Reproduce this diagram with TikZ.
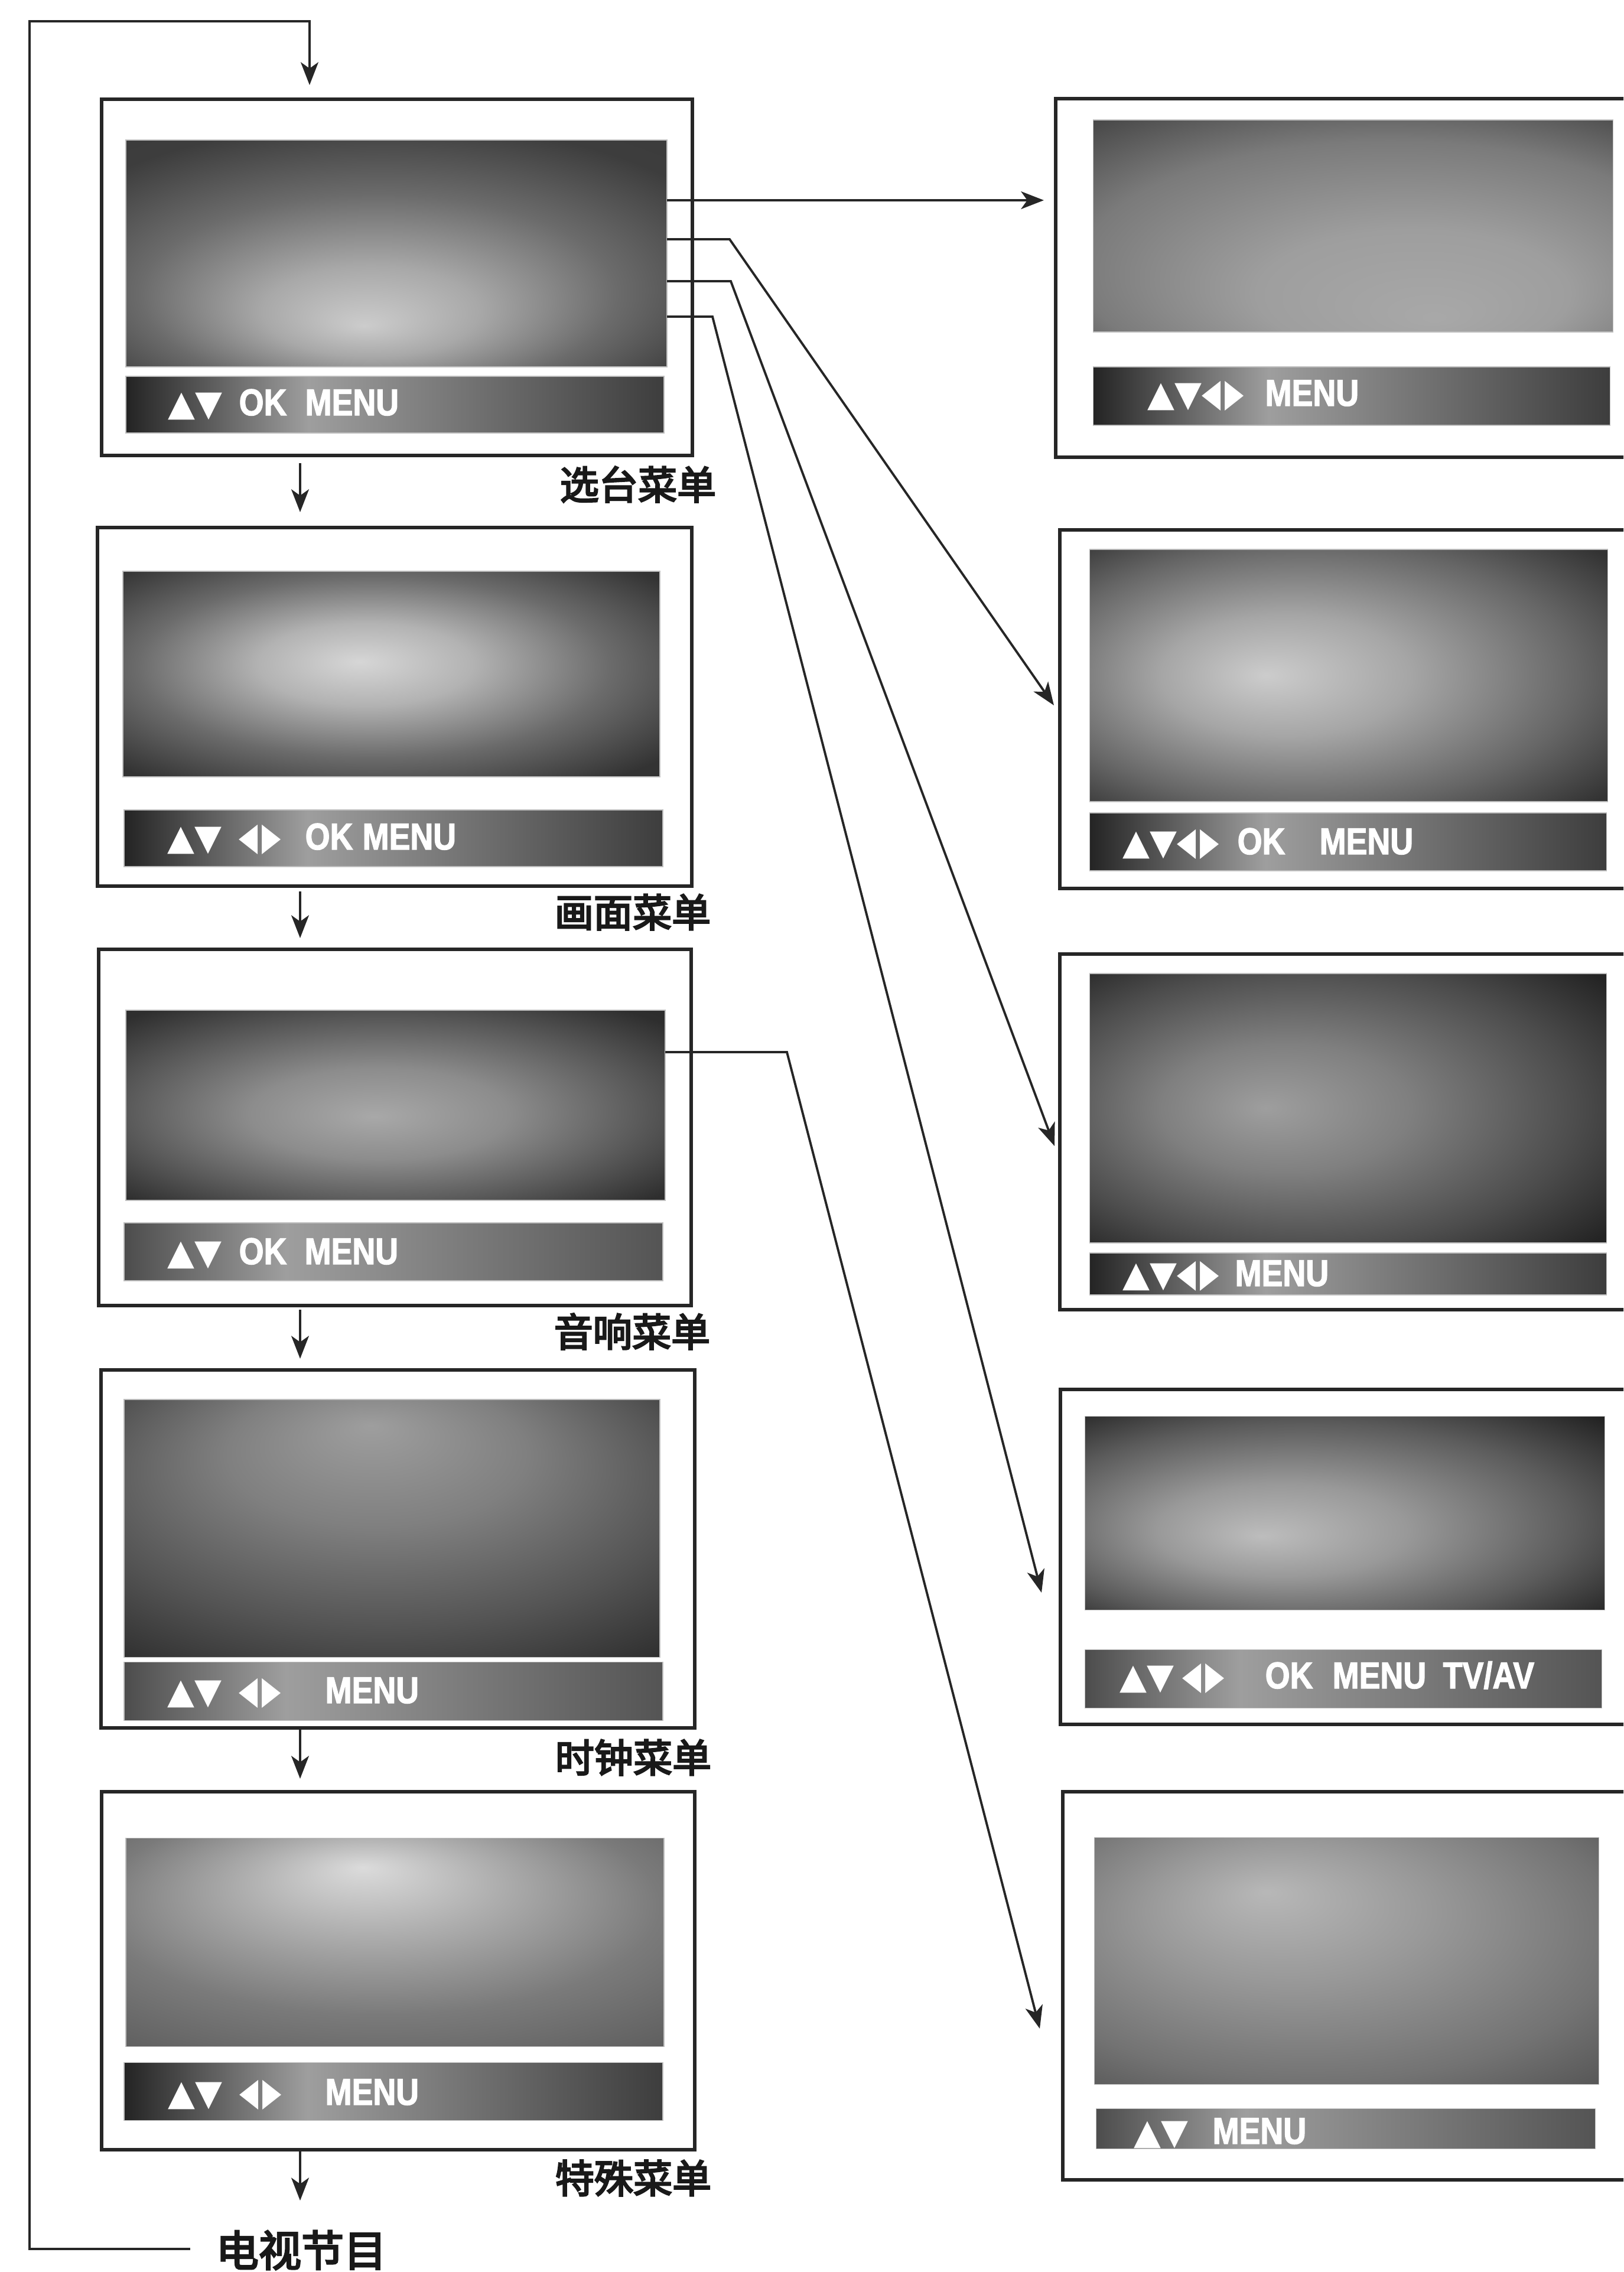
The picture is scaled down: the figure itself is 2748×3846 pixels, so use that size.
\documentclass[tikz,border=0pt]{standalone}
\usepackage{fontspec}
\usepackage{graphicx}
\usetikzlibrary{arrows.meta,calc}
\newfontfamily\cjk[FakeBold=4]{Noto Sans CJK SC}
\newfontfamily\barfont[FakeStretch=0.85,FakeBold=2]{Liberation Sans}
\newfontfamily\symfont{DejaVu Sans}
\newcommand\lr{\scalebox{0.7}[1.1]{◀}\kern2pt\scalebox{0.7}[1.1]{▶}}

% screen shadings (path box = central 50bp square)
\pgfdeclareradialshading{sA}{\pgfpoint{-3bp}{-16bp}}{rgb(0bp)=(0.80,0.80,0.80); rgb(10bp)=(0.66,0.66,0.66); rgb(22bp)=(0.42,0.42,0.42); rgb(34bp)=(0.24,0.24,0.24); rgb(50bp)=(0.22,0.22,0.22)}
\pgfdeclareradialshading{sB}{\pgfpoint{-3bp}{3bp}}{rgb(0bp)=(0.84,0.84,0.84); rgb(10bp)=(0.70,0.70,0.70); rgb(22bp)=(0.42,0.42,0.42); rgb(34bp)=(0.20,0.20,0.20); rgb(50bp)=(0.18,0.18,0.18)}
\pgfdeclareradialshading{sC}{\pgfpoint{-2bp}{-3bp}}{rgb(0bp)=(0.66,0.66,0.66); rgb(12bp)=(0.55,0.55,0.55); rgb(24bp)=(0.35,0.35,0.35); rgb(34bp)=(0.18,0.18,0.18); rgb(50bp)=(0.15,0.15,0.15)}
\pgfdeclareradialshading{sD}{\pgfpoint{-2bp}{20bp}}{rgb(0bp)=(0.62,0.62,0.62); rgb(14bp)=(0.50,0.50,0.50); rgb(28bp)=(0.33,0.33,0.33); rgb(40bp)=(0.17,0.17,0.17); rgb(50bp)=(0.15,0.15,0.15)}
\pgfdeclareradialshading{sE}{\pgfpoint{-3bp}{18bp}}{rgb(0bp)=(0.86,0.86,0.86); rgb(12bp)=(0.68,0.68,0.68); rgb(26bp)=(0.48,0.48,0.48); rgb(40bp)=(0.36,0.36,0.36); rgb(50bp)=(0.33,0.33,0.33)}
\pgfdeclareradialshading{sF}{\pgfpoint{8bp}{-22bp}}{rgb(0bp)=(0.66,0.66,0.66); rgb(15bp)=(0.62,0.62,0.62); rgb(30bp)=(0.48,0.48,0.48); rgb(45bp)=(0.20,0.20,0.20); rgb(55bp)=(0.13,0.13,0.13)}
\pgfdeclareradialshading{sG}{\pgfpoint{-8bp}{0bp}}{rgb(0bp)=(0.80,0.80,0.80); rgb(12bp)=(0.65,0.65,0.65); rgb(26bp)=(0.40,0.40,0.40); rgb(36bp)=(0.20,0.20,0.20); rgb(50bp)=(0.20,0.20,0.20)}
\pgfdeclareradialshading{sH}{\pgfpoint{-8bp}{0bp}}{rgb(0bp)=(0.62,0.62,0.62); rgb(12bp)=(0.50,0.50,0.50); rgb(26bp)=(0.30,0.30,0.30); rgb(36bp)=(0.14,0.14,0.14); rgb(50bp)=(0.14,0.14,0.14)}
\pgfdeclareradialshading{sI}{\pgfpoint{-8bp}{-6bp}}{rgb(0bp)=(0.74,0.74,0.74); rgb(12bp)=(0.60,0.60,0.60); rgb(26bp)=(0.36,0.36,0.36); rgb(38bp)=(0.12,0.12,0.12); rgb(50bp)=(0.10,0.10,0.10)}
\pgfdeclareradialshading{sJ}{\pgfpoint{-8bp}{14bp}}{rgb(0bp)=(0.72,0.72,0.72); rgb(14bp)=(0.60,0.60,0.60); rgb(30bp)=(0.45,0.45,0.45); rgb(42bp)=(0.30,0.30,0.30); rgb(50bp)=(0.28,0.28,0.28)}
% bar shadings
\pgfdeclarehorizontalshading{bA}{100bp}{rgb(0bp)=(0.14,0.14,0.14); rgb(25bp)=(0.14,0.14,0.14); rgb(42bp)=(0.62,0.62,0.62); rgb(75bp)=(0.24,0.24,0.24); rgb(100bp)=(0.24,0.24,0.24)}
\pgfdeclarehorizontalshading{bB}{100bp}{rgb(0bp)=(0.30,0.30,0.30); rgb(25bp)=(0.30,0.30,0.30); rgb(40bp)=(0.62,0.62,0.62); rgb(75bp)=(0.33,0.33,0.33); rgb(100bp)=(0.33,0.33,0.33)}

\tikzset{
  frame/.style={draw=black!85, line width=1.6pt, fill=white, inner sep=0pt, outer sep=0pt, anchor=north west},
  scr/.style={inner sep=0pt, outer sep=0pt, anchor=north west, draw=black!25, line width=0.3pt, shade},
  bartxt/.style={text=white, inner sep=0pt, anchor=base west, font=\barfont\bfseries\fontsize{18}{18}\selectfont},
  symtxt/.style={text=white, inner sep=0pt, anchor=base west, font=\symfont\fontsize{17}{17}\selectfont},
  lbl/.style={inner sep=0pt, text=black!90, font=\cjk\fontsize{18.8}{19}\selectfont},
  conn/.style={draw=black!85, line width=1.1pt},
  tip/.style={-{Stealth[length=11pt,width=8.5pt,inset=3pt]}},
}
% name, left, top, right, bottom, style
\newcommand\pbox[6]{\node[#6, minimum width={(#4-#2)*0.01cm}, minimum height={(#5-#3)*0.01cm}] (#1) at (#2,#3) {};}
\newcommand\tx[5]{\node[#4] (#1) at (#2,#3) {#5};}

\begin{document}
\begin{tikzpicture}[x=0.01cm, y=-0.01cm]
\useasboundingbox (0,0) rectangle (2748,3846);
\clip (0,0) rectangle (2748,3846);

% ---------- left column ----------
\pbox{b1}{172}{168}{1172}{771}{frame}
\pbox{s1}{213}{237}{1129}{621}{scr, shading=sA}
\pbox{r1}{213}{637}{1124}{733}{scr, shading=bA}

\pbox{b2}{165}{893}{1171}{1500}{frame}
\pbox{s2}{208}{967}{1117}{1315}{scr, shading=sB}
\pbox{r2}{210}{1371}{1122}{1467}{scr, shading=bA}

\pbox{b3}{167}{1607}{1170}{2210}{frame}
\pbox{s3}{213}{1710}{1126}{2032}{scr, shading=sC}
\pbox{r3}{210}{2070}{1122}{2168}{scr, shading=bB}

\pbox{b4}{171}{2319}{1176}{2925}{frame}
\pbox{s4}{210}{2369}{1117}{2805}{scr, shading=sD}
\pbox{r4}{210}{2813}{1122}{2912}{scr, shading=bB}

\pbox{b5}{172}{3033}{1176}{3639}{frame}
\pbox{s5}{213}{3111}{1124}{3464}{scr, shading=sE}
\pbox{r5}{210}{3491}{1122}{3589}{scr, shading=bA}

% ---------- right column ----------
\pbox{R1}{1787}{167}{2800}{774}{frame}
\pbox{S1}{1850}{203}{2730}{562}{scr, shading=sF}
\pbox{Q1}{1850}{621}{2725}{720}{scr, shading=bA}

\pbox{R2}{1794}{897}{2800}{1504}{frame}
\pbox{S2}{1844}{930}{2721}{1357}{scr, shading=sG}
\pbox{Q2}{1844}{1376}{2719}{1474}{scr, shading=bA}

\pbox{R3}{1794}{1615}{2800}{2217}{frame}
\pbox{S3}{1844}{1648}{2719}{2104}{scr, shading=sH}
\pbox{Q3}{1844}{2121}{2719}{2192}{scr, shading=bA}

\pbox{R4}{1795}{2352}{2800}{2919}{frame}
\pbox{S4}{1836}{2397}{2716}{2725}{scr, shading=sI}
\pbox{Q4}{1836}{2792}{2711}{2891}{scr, shading=bB}

\pbox{R5}{1799}{3033}{2800}{3690}{frame}
\pbox{S5}{1852}{3110}{2706}{3528}{scr, shading=sJ}
\pbox{Q5}{1855}{3569}{2700}{3637}{scr, shading=bB}

% ---------- bar texts ----------
\tx{t1a}{284}{703}{symtxt}{▲▼}
\tx{t1b}{404}{703}{bartxt}{OK}
\tx{t1c}{516}{703}{bartxt}{MENU}

\tx{t2a}{283}{1438}{symtxt}{▲▼}
\tx{t2b}{404}{1438}{symtxt}{\lr}
\tx{t2c}{516}{1438}{bartxt}{OK}
\tx{t2d}{613}{1438}{bartxt}{MENU}

\tx{t3a}{283}{2140}{symtxt}{▲▼}
\tx{t3b}{404}{2140}{bartxt}{OK}
\tx{t3c}{515}{2140}{bartxt}{MENU}

\tx{t4a}{283}{2883}{symtxt}{▲▼}
\tx{t4b}{404}{2883}{symtxt}{\lr}
\tx{t4c}{550}{2883}{bartxt}{MENU}

\tx{t5a}{284}{3563}{symtxt}{▲▼}
\tx{t5b}{405}{3563}{symtxt}{\lr}
\tx{t5c}{550}{3563}{bartxt}{MENU}

\tx{u1a}{1942}{687}{symtxt}{▲▼\lr}
\tx{u1b}{2141}{687}{bartxt}{MENU}

\tx{u2a}{1900}{1446}{symtxt}{▲▼\lr}
\tx{u2b}{2094}{1446}{bartxt}{OK}
\tx{u2c}{2233}{1446}{bartxt}{MENU}

\tx{u3a}{1900}{2177}{symtxt}{▲▼\lr}
\tx{u3b}{2090}{2177}{bartxt}{MENU}

\tx{u4a}{1895}{2858}{symtxt}{▲▼}
\tx{u4b}{2001}{2858}{symtxt}{\lr}
\tx{u4c}{2141}{2858}{bartxt}{OK}
\tx{u4d}{2255}{2858}{bartxt}{MENU}
\tx{u4e}{2442}{2858}{bartxt}{TV/AV}

\tx{u5a}{1919}{3629}{symtxt}{▲▼}
\tx{u5b}{2052}{3629}{bartxt}{MENU}

% ---------- labels ----------
\node[lbl] (L1) at (1080,820) {选台菜单};
\node[lbl] (L2) at (1071,1544) {画面菜单};
\node[lbl] (L3) at (1070,2254) {音响菜单};
\node[lbl] (L4) at (1072,2975) {时钟菜单};
\node[lbl] (L5) at (1072,3687) {特殊菜单};
\node[lbl, font=\cjk\fontsize{20.5}{21}\selectfont] (tv) at (510,3809) {电视节目};

% ---------- connector points ----------
\coordinate (o1) at ($(s1.north east)+(0,102)$);
\coordinate (o2) at ($(s1.north east)+(0,168)$);
\coordinate (o3) at ($(s1.north east)+(0,239)$);
\coordinate (o4) at ($(s1.north east)+(0,299)$);
\coordinate (o5) at ($(s3.north east)+(0,71)$);
\coordinate (k2) at (1235,405);
\coordinate (k3) at (1237,476);
\coordinate (k4) at (1206,536);
\coordinate (k5) at (1332,1781);
\coordinate (e1) at ($(R1.north west)+(-20,172)$);
\coordinate (e2) at ($(R2.north west)+(-10,297)$);
\coordinate (e3) at ($(R3.north west)+(-9,325)$);
\coordinate (e4) at ($(R4.north west)+(-32,344)$);
\coordinate (e5) at ($(R5.north west)+(-39,401)$);

\draw[conn,tip] (o1) -- (e1);
\draw[conn,tip] (o2) -- (k2) -- (e2);
\draw[conn,tip] (o3) -- (k3) -- (e3);
\draw[conn,tip] (o4) -- (k4) -- (e4);
\draw[conn,tip] (o5) -- (k5) -- (e5);

% vertical flow
\draw[conn,tip] ($(b1.south west)+(336,13)$) -- ($(b2.north west)+(343,-26)$);
\draw[conn,tip] ($(b2.south west)+(343,9)$) -- ($(b3.north west)+(341,-19)$);
\draw[conn,tip] ($(b3.south west)+(341,7)$) -- ($(b4.north west)+(337,-19)$);
\draw[conn,tip] ($(b4.south west)+(337,2)$) -- ($(b5.north west)+(336,-22)$);
\draw[conn,tip] ($(b5.south west)+(336,1)$) -- ($(tv.north)+(-2,-50)$);

% loop back
\draw[conn,tip] ($(tv.west)+(-43,-2)$) -| (50,36) -| ($(b1.north west)+(352,-24)$);
\end{tikzpicture}
\end{document}
